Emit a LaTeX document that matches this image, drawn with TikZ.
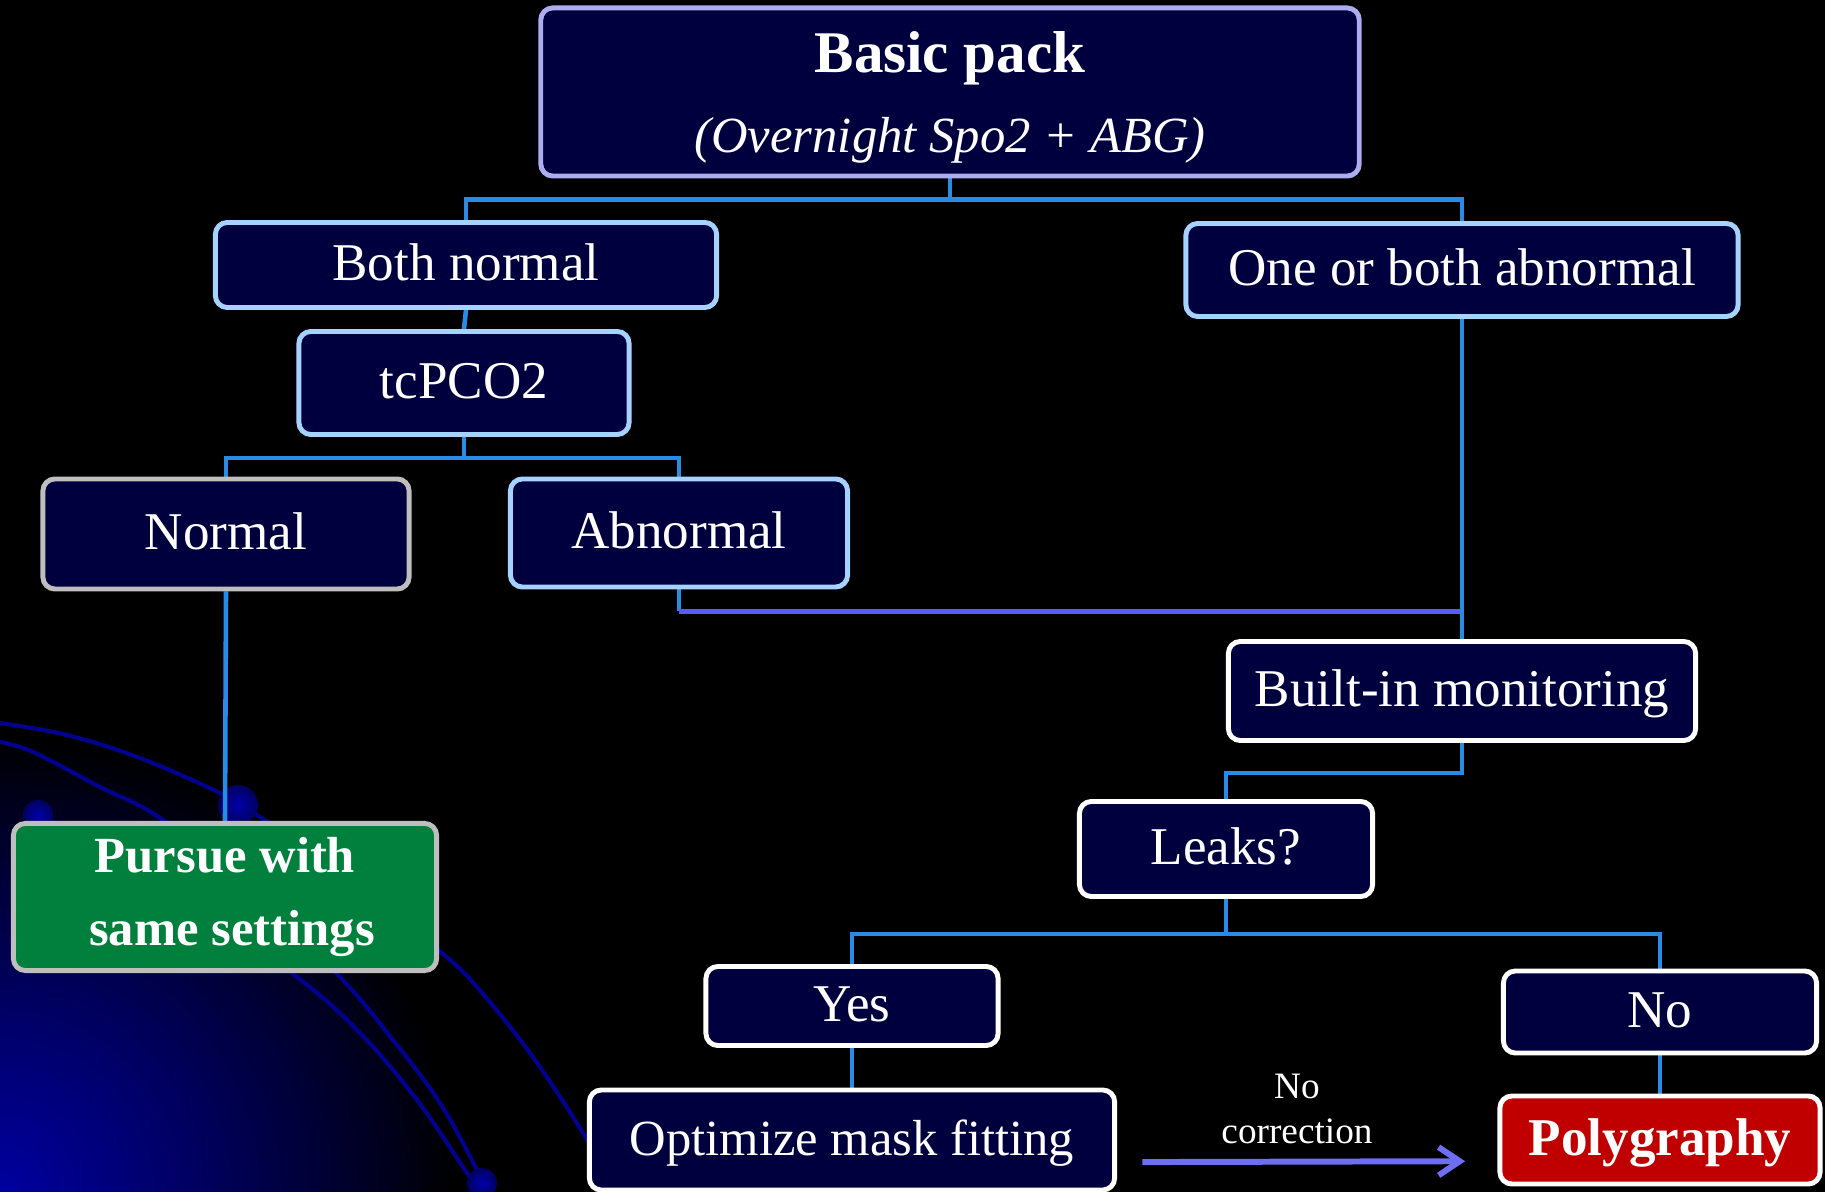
\documentclass[tikz,border=0pt]{standalone}
\usepackage{fontspec}
\setmainfont{Liberation Serif}
\usetikzlibrary{arrows.meta}

\pgfdeclarelayer{bg}
\pgfdeclarelayer{links}
\pgfsetlayers{bg,links,main}

\definecolor{boxnavy}{RGB}{0,0,62}
\definecolor{lavender}{RGB}{172,172,240}
\definecolor{skyedge}{RGB}{165,210,255}
\definecolor{greyedge}{RGB}{190,190,190}
\definecolor{gofill}{RGB}{0,128,60}
\definecolor{stopfill}{RGB}{192,0,0}
\definecolor{linkblue}{RGB}{40,140,230}
\definecolor{linkviolet}{RGB}{90,90,250}
\definecolor{arrowviolet}{RGB}{110,110,245}
\definecolor{orbitblue}{RGB}{0,0,145}
\definecolor{glowcore}{RGB}{0,0,158}

\tikzset{
  card/.style={draw, rounded corners=3.4pt, line width=1.4pt, fill=boxnavy,
    text=white, inner sep=0pt, font=\fontsize{15.1}{18}\selectfont,
    text height=13.5pt, text depth=4.5pt},
  skycard/.style={card, draw=skyedge},
  greycard/.style={card, draw=greyedge},
  whitecard/.style={card, draw=white},
  link/.style={draw=linkblue, line width=1.3pt},
  violetlink/.style={draw=linkviolet, line width=1.3pt},
  orbit/.style={draw=orbitblue, line width=1.15pt},
  orb/.style={inner color={rgb,255:red,0;green,0;blue,170},
    outer color={rgb,255:red,0;green,0;blue,95}},
}

\begin{document}
\begin{tikzpicture}[x=0.01cm, y=-0.01cm]
\useasboundingbox (0,0) rectangle (1825,1192);

% backdrop: black slide with a blue glow and orbit lines in the lower left
\begin{pgfonlayer}{bg}
  \fill[black] (0,0) rectangle (1825,1192);
  \begin{scope}
    \clip (0,0) rectangle (1825,1192);
    % glow built from nested discs, brightest at the corner
    \foreach \k in {0,...,63} {
      \pgfmathsetmacro\rad{4.5*(1-\k/64)}
      \pgfmathsetmacro\mix{100*((\k+1)/64)^0.9}
      \fill[glowcore!\mix!black] (0,1192) circle[radius=\rad cm];
    }
  \end{scope}
  \draw[orbit] plot[smooth, tension=0.6] coordinates {(0,723) (67,735) (140,758) (220,793) (260,817) (350,877) (442,953) (477,987) (530,1053) (583,1133) (615,1192)};
  \draw[orbit] plot[smooth, tension=0.6] coordinates {(0,742) (33,752) (100,787) (160,818) (250,890) (340,977) (393,1040) (440,1103) (477,1170) (485,1192)};
  \draw[orbit] plot[smooth, tension=0.6] coordinates {(38,815) (170,885) (297,977) (360,1033) (417,1100) (467,1173) (480,1192)};
  \shade[orb] (238,805) circle[radius=0.2cm];
  \shade[orb] (38,815) circle[radius=0.15cm];
  \shade[orb] (482,1183) circle[radius=0.15cm];
\end{pgfonlayer}

% decision boxes
\node[card, draw=lavender, minimum width=8.18cm, minimum height=1.68cm,
      text height=, text depth=, align=center] (basic) at (950,92)
  {{\fontsize{16.8}{23}\selectfont\bfseries\rule{0pt}{14.5pt}Basic pack}\\[4.8pt]
   {\fontsize{14.4}{23}\selectfont\itshape (Overnight Spo2 + ABG)}};
\node[skycard, minimum width=5.01cm, minimum height=0.85cm] (bothn) at (466,265) {Both normal};
\node[skycard, minimum width=5.52cm, minimum height=0.93cm] (onea) at (1462,270) {One or both abnormal};
\node[skycard, minimum width=3.30cm, minimum height=1.03cm] (tc) at (464,383) {tcPCO2};
\node[greycard, minimum width=3.66cm, minimum height=1.10cm] (norm) at (226,534) {Normal};
\node[skycard, minimum width=3.37cm, minimum height=1.08cm] (abn) at (679,533) {Abnormal};
\node[whitecard, minimum width=4.67cm, minimum height=0.99cm] (built) at (1462,691) {Built-in monitoring};
\node[whitecard, minimum width=2.93cm, minimum height=0.95cm] (leaks) at (1226,849) {Leaks?};
\node[whitecard, minimum width=2.92cm, minimum height=0.79cm] (yes) at (852,1006) {Yes};
\node[whitecard, minimum width=3.13cm, minimum height=0.82cm] (no) at (1660,1012) {No};
\node[whitecard, minimum width=5.25cm, minimum height=1.00cm,
      font=\fontsize{14.4}{18}\selectfont] (opt) at (852,1140) {Optimize mask fitting};
\node[whitecard, fill=stopfill, minimum width=3.20cm, minimum height=0.88cm,
      font=\fontsize{15.1}{18}\selectfont\bfseries] (poly) at (1660,1140) {Polygraphy};
\node[greycard, fill=gofill, minimum width=4.23cm, minimum height=1.47cm,
      text height=, text depth=, align=center,
      font=\fontsize{14.4}{20.5}\selectfont\bfseries] (pursue) at (225,897)
  {Pursue with\\\hspace*{4pt}same settings};

% label over the bypass arrow
\node[text=white, align=center, inner sep=0pt,
      font=\fontsize{10.6}{13}\selectfont] (nocorr) at (1297,1109) {No\\correction};

% connectors
\begin{pgfonlayer}{links}
  \draw[link] (basic.south) -- ++(0,21) -| (bothn.north);
  \draw[link] (basic.south) -- ++(0,21) -| (onea.north);
  \draw[link] (bothn.south) -- (tc.north);
  \draw[link] (tc.south) -- ++(0,21) -| (norm.north);
  \draw[link] (tc.south) -- ++(0,21) -| (abn.north);
  \draw[link] (norm.south) -- (pursue.north);
  \draw[link] (abn.south) -- ++(0,22) coordinate (abnturn);
  \draw[violetlink] (abnturn) -- (abnturn -| onea.south);
  \draw[link] (onea.south) -- (built.north);
  \draw[link] (built.south) -- ++(0,30) -| (leaks.north);
  \draw[link] (leaks.south) -- ++(0,35) -| (yes.north);
  \draw[link] (leaks.south) -- ++(0,35) -| (no.north);
  \draw[link] (yes.south) -- (opt.north);
  \draw[link] (no.south) -- (poly.north);
\end{pgfonlayer}
\draw[draw=arrowviolet, line width=1.7pt, shorten <=7.2pt, shorten >=9.2pt,
      -{Straight Barb[length=6pt, width=8pt]}]
  ([yshift=-6.3pt]opt.east) -- ([yshift=-6.0pt]poly.west);

\end{tikzpicture}
\end{document}
